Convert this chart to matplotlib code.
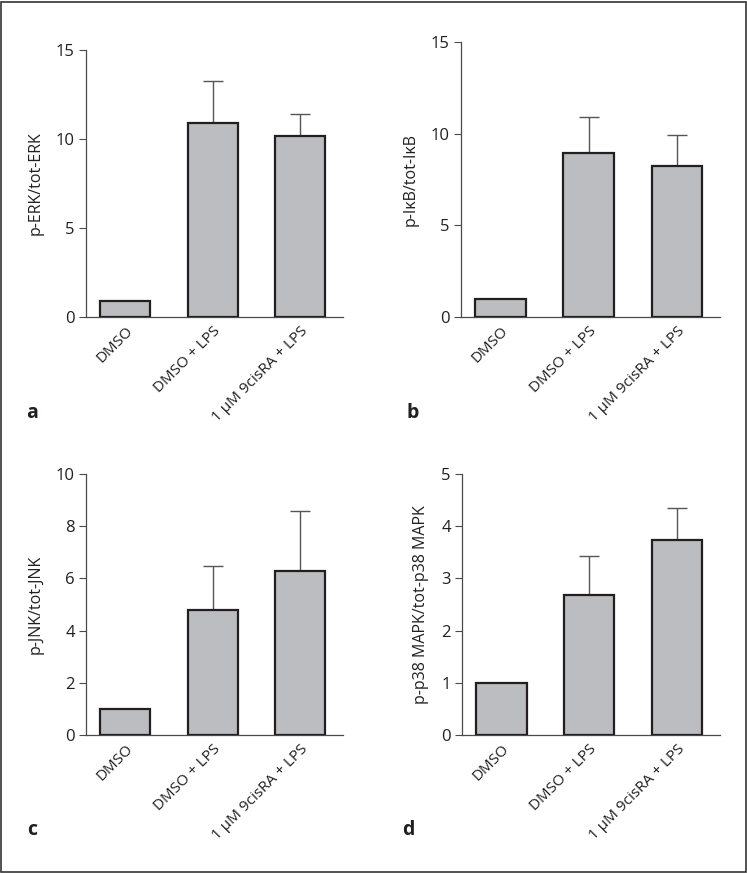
import matplotlib
matplotlib.use("Agg")
import matplotlib.pyplot as plt
from matplotlib.patches import Rectangle

plt.rcParams["font.family"] = ["Open Sans", "DejaVu Sans"]

# ── Data ──────────────────────────────────────────────────────────────────────
groups = ["DMSO", "DMSO + LPS", "1 µM 9cisRA + LPS"]

erk_mean = [0.9, 10.92, 10.17]
erk_err = [0.0, 2.34, 1.25]

ikb_mean = [1.0, 8.95, 8.24]
ikb_err = [0.0, 1.98, 1.71]

jnk_mean = [1.0, 4.78, 6.29]
jnk_err = [0.0, 1.68, 2.31]

p38_mean = [1.0, 2.68, 3.74]
p38_err = [0.0, 0.75, 0.60]

panels = [
    ("a", "p-ERK/tot-ERK", erk_mean, erk_err, 15, [0, 5, 10, 15]),
    ("b", "p-IκB/tot-IκB", ikb_mean, ikb_err, 15, [0, 5, 10, 15]),
    ("c", "p-JNK/tot-JNK", jnk_mean, jnk_err, 10, [0, 2, 4, 6, 8, 10]),
    ("d", "p-p38 MAPK/tot-p38 MAPK", p38_mean, p38_err, 5, [0, 1, 2, 3, 4, 5]),
]

# ── Layout ────────────────────────────────────────────────────────────────────
BAR = "#bcbdc1"
EDGE = "#231f20"
AXC = "#4a4a4a"
ERRC = "#555555"
TXT = "#231f20"

W, H = 747, 873
boxes = [  # left, right, bottom, top in px
    (86, 343, 317, 50),
    (461, 720, 317, 42),
    (86, 343, 735, 474),
    (462, 720, 735, 474),
]
letters_xy = [(32, 413), (413, 413), (32, 830), (408, 830)]

fig = plt.figure(figsize=(W / 100, H / 100), dpi=100)
fig.patches.append(Rectangle((0.001, 0.001), 0.997, 0.997, transform=fig.transFigure,
                             fill=False, edgecolor="#333333", lw=1.2))

for (letter, ylabel, mean, err, ymax, ticks), (l, r, b, t), (lx, ly) in zip(
        panels, boxes, letters_xy):
    ax = fig.add_axes([l / W, 1 - b / H, (r - l) / W, (b - t) / H])
    x = list(range(len(groups)))
    ax.bar(x, mean, width=0.575, color=BAR, edgecolor=EDGE, linewidth=1.6, zorder=3)
    ex = [i for i in x if err[i] > 0]
    ax.errorbar(ex, [mean[i] for i in ex],
                yerr=[[0] * len(ex), [err[i] for i in ex]],
                fmt="none", ecolor=ERRC, elinewidth=1.0, capsize=7,
                capthick=1.0, zorder=2)
    ax.set_xlim(-0.45, 2.49)
    ax.set_ylim(0, ymax)
    ax.set_yticks(ticks)
    ax.set_xticks(x)
    ax.set_xticklabels(groups, rotation=45, ha="right", va="top",
                       rotation_mode="anchor", fontsize=11, color=TXT)
    ax.tick_params(axis="x", length=0, pad=5)
    ax.tick_params(axis="y", length=5, width=0.8, color=AXC, labelsize=12,
                   labelcolor=TXT, pad=3)
    ax.set_ylabel(ylabel, fontsize=11.5, color=TXT, labelpad=9)
    for side in ("top", "right"):
        ax.spines[side].set_visible(False)
    for side in ("left", "bottom"):
        ax.spines[side].set_color(AXC)
        ax.spines[side].set_linewidth(0.9)
    fig.text(lx / W, 1 - ly / H, letter, fontsize=14, fontweight="bold",
             ha="center", va="center", color=TXT)

fig.savefig("out.png", dpi=100)
